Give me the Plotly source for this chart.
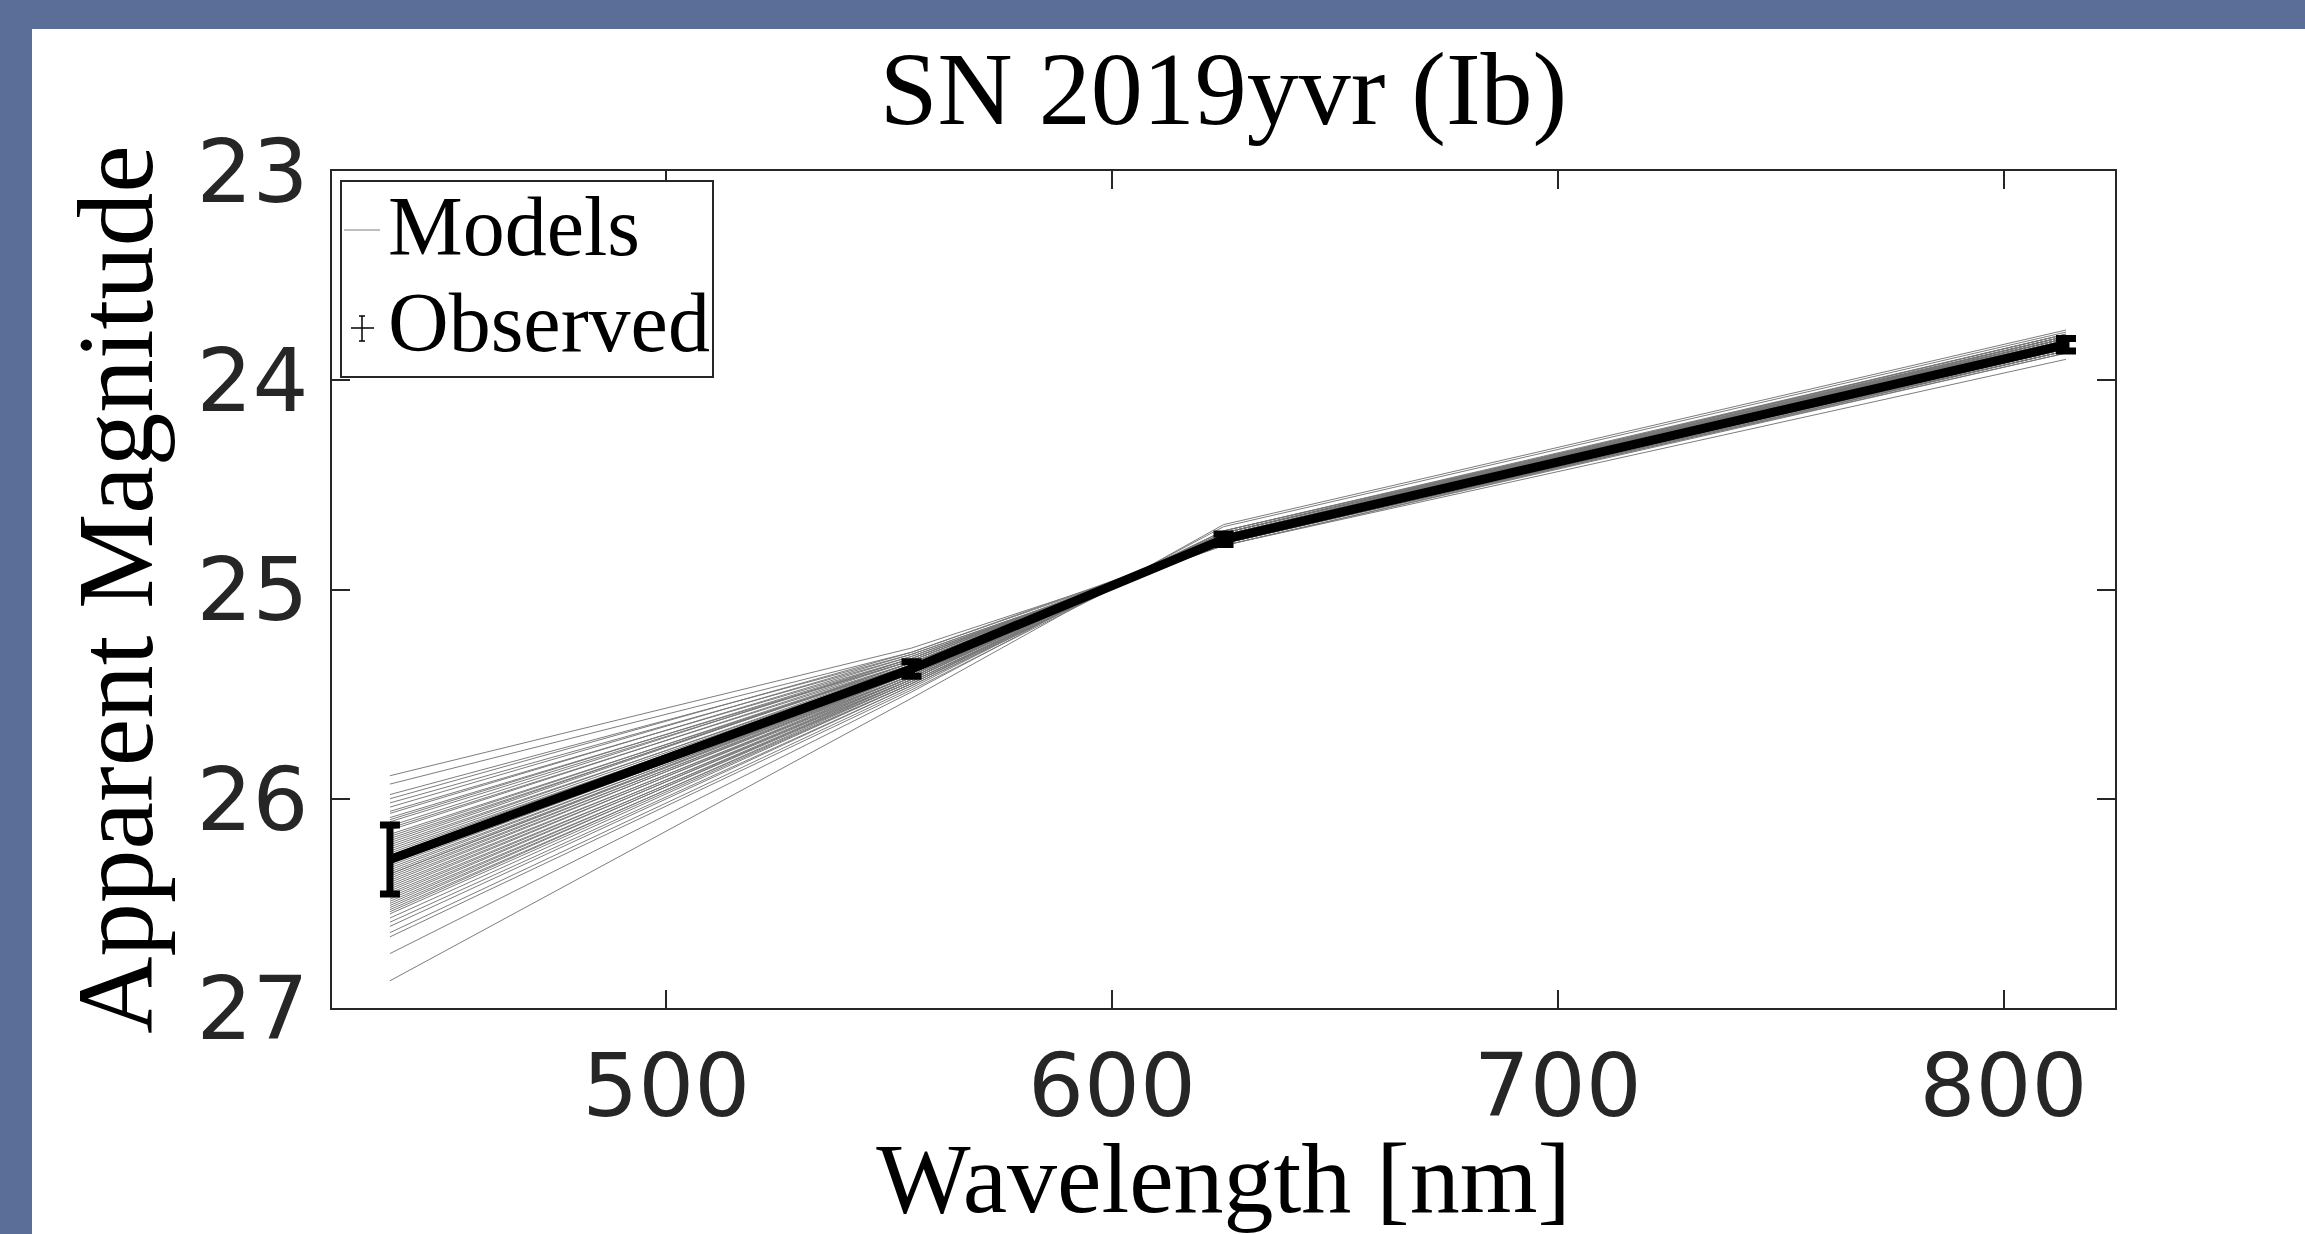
import plotly.graph_objects as go

# ---------------- data ----------------
bands_nm = [438, 555, 625, 814]

obs_mag = [26.29, 25.38, 24.76, 23.83]
obs_err = [0.165, 0.035, 0.025, 0.03]

model_438 = [25.89, 25.93, 25.98, 26.00, 26.02, 26.04, 26.06, 26.07, 26.09, 26.10,
             26.11, 26.13, 26.14, 26.15, 26.17, 26.18, 26.19, 26.21, 26.22, 26.23,
             26.24, 26.25, 26.26, 26.27, 26.28, 26.30, 26.31, 26.32, 26.33, 26.34,
             26.35, 26.36, 26.37, 26.38, 26.39, 26.40, 26.41, 26.42, 26.43, 26.44,
             26.45, 26.46, 26.47, 26.48, 26.49, 26.50, 26.51, 26.52, 26.53, 26.54,
             26.55, 26.57, 26.59, 26.61, 26.64, 26.66, 26.74, 26.87, 26.20, 26.36]
model_555 = [25.28, 25.30, 25.31, 25.30, 25.32, 25.31, 25.33, 25.32, 25.34, 25.33,
             25.34, 25.33, 25.35, 25.34, 25.36, 25.35, 25.36, 25.35, 25.37, 25.36,
             25.37, 25.38, 25.37, 25.38, 25.37, 25.39, 25.38, 25.39, 25.40, 25.39,
             25.40, 25.39, 25.41, 25.40, 25.41, 25.40, 25.42, 25.41, 25.42, 25.41,
             25.43, 25.42, 25.43, 25.42, 25.44, 25.43, 25.44, 25.43, 25.45, 25.44,
             25.45, 25.45, 25.46, 25.46, 25.47, 25.48, 25.49, 25.52, 25.35, 25.40]
model_625 = [24.79, 24.78, 24.79, 24.77, 24.78, 24.79, 24.77, 24.78, 24.76, 24.78,
             24.77, 24.76, 24.78, 24.77, 24.76, 24.77, 24.78, 24.76, 24.77, 24.75,
             24.77, 24.76, 24.75, 24.77, 24.76, 24.75, 24.76, 24.74, 24.76, 24.75,
             24.76, 24.74, 24.75, 24.76, 24.74, 24.75, 24.73, 24.75, 24.74, 24.76,
             24.74, 24.75, 24.73, 24.74, 24.75, 24.73, 24.74, 24.72, 24.74, 24.73,
             24.74, 24.72, 24.73, 24.74, 24.72, 24.73, 24.70, 24.69, 24.77, 24.75]
model_814 = [23.86, 23.84, 23.90, 23.82, 23.85, 23.87, 23.83, 23.86, 23.81, 23.84,
             23.85, 23.82, 23.87, 23.83, 23.80, 23.84, 23.86, 23.81, 23.83, 23.79,
             23.85, 23.82, 23.80, 23.84, 23.83, 23.81, 23.85, 23.79, 23.82, 23.84,
             23.80, 23.83, 23.81, 23.86, 23.80, 23.82, 23.78, 23.84, 23.81, 23.83,
             23.79, 23.82, 23.80, 23.84, 23.81, 23.78, 23.83, 23.80, 23.82, 23.79,
             23.81, 23.78, 23.80, 23.82, 23.79, 23.81, 23.77, 23.76, 23.85, 23.83]

x_ticks = [500, 600, 700, 800]
y_ticks = [23, 24, 25, 26, 27]

title_text = "SN 2019yvr (Ib)"
x_label = "Wavelength [nm]"
y_label = "Apparent Magnitude"
legend_labels = ["Models", "Observed"]

# ---------------- figure ----------------
W, H = 2305, 1234
ML, MR, MT, MB = 332, 190, 171, 226
PW, PH = W - ML - MR, H - MT - MB

SERIF = "Liberation Serif, Times New Roman, serif"
SANS = "DejaVu Sans, sans-serif"
AX = "#262626"
FRAME = "#5a6e97"
MODEL_COL = "rgba(118,118,118,0.95)"

fig = go.Figure()

for i, (a, b, c, d) in enumerate(zip(model_438, model_555, model_625, model_814)):
    fig.add_trace(go.Scatter(
        x=bands_nm, y=[a, b, c, d], mode="lines",
        line=dict(color=MODEL_COL, width=1),
        name=legend_labels[0], showlegend=False, hoverinfo="skip"))

fig.add_trace(go.Scatter(
    x=bands_nm, y=obs_mag, mode="lines",
    line=dict(color="black", width=9),
    error_y=dict(type="data", array=obs_err, color="black", thickness=7, width=10),
    name=legend_labels[1], showlegend=False))


def px_x(px):
    return (px - ML) / PW


def px_y(py):
    return (H - MB - py) / PH


# outer blue frame (top and left bands)
fig.add_shape(type="rect", xref="paper", yref="paper", layer="below",
              x0=px_x(0), x1=px_x(W), y0=px_y(29), y1=px_y(0),
              fillcolor=FRAME, line=dict(width=0))
fig.add_shape(type="rect", xref="paper", yref="paper", layer="below",
              x0=px_x(0), x1=px_x(32), y0=px_y(H), y1=px_y(0),
              fillcolor=FRAME, line=dict(width=0))

# legend box (drawn to match the MATLAB-style legend)
fig.add_shape(type="rect", xref="paper", yref="paper", layer="above",
              x0=px_x(341), x1=px_x(713), y0=px_y(377), y1=px_y(181),
              fillcolor="white", line=dict(color=AX, width=2))
# Models sample line
fig.add_shape(type="line", xref="paper", yref="paper", layer="above",
              x0=px_x(344), x1=px_x(380), y0=px_y(230), y1=px_y(230),
              line=dict(color=MODEL_COL, width=1))
# Observed errorbar glyph
fig.add_shape(type="line", xref="paper", yref="paper", layer="above",
              x0=px_x(351), x1=px_x(374), y0=px_y(328), y1=px_y(328),
              line=dict(color="black", width=1.5))
fig.add_shape(type="line", xref="paper", yref="paper", layer="above",
              x0=px_x(362), x1=px_x(362), y0=px_y(316), y1=px_y(341),
              line=dict(color="black", width=1.5))
for yy in (316, 341):
    fig.add_shape(type="line", xref="paper", yref="paper", layer="above",
                  x0=px_x(359), x1=px_x(365), y0=px_y(yy), y1=px_y(yy),
                  line=dict(color="black", width=1.5))

for lab, yy in zip(legend_labels, (226, 322)):
    fig.add_annotation(text=lab, xref="paper", yref="paper",
                       x=px_x(386), y=px_y(yy), xanchor="left", yanchor="middle",
                       showarrow=False,
                       font=dict(family=SERIF, size=84, color="black"))

axis_common = dict(
    showgrid=False, zeroline=False, showline=True, linecolor=AX, linewidth=2,
    mirror="ticks", ticks="inside", ticklen=18, tickwidth=2, tickcolor=AX,
    tickfont=dict(family=SANS, size=88, color=AX),
)

fig.update_layout(
    width=W, height=H,
    margin=dict(l=ML, r=MR, t=MT, b=MB, autoexpand=False),
    paper_bgcolor="white", plot_bgcolor="white",
    title=dict(text=title_text, font=dict(family=SERIF, size=104, color="black"),
               x=(ML + PW / 2) / W, xanchor="center",
               y=1 - 88 / H, yanchor="middle", xref="container", yref="container"),
    xaxis=dict(range=[425, 825], tickvals=x_ticks, ticktext=[str(v) for v in x_ticks],
               title=dict(text=x_label, font=dict(family=SERIF, size=100, color="black"),
                          standoff=20),
               ticklabelstandoff=0,
               **axis_common),
    yaxis=dict(range=[27, 23], tickvals=y_ticks, ticktext=[str(v) for v in y_ticks],
               title=dict(text=y_label, font=dict(family=SERIF, size=107, color="black"),
                          standoff=8),
               ticklabelstandoff=4,
               **axis_common),
    showlegend=False,
)

fig.write_html("out.html", config={"displayModeBar": False},
               post_script="document.body.style.margin='0';")
